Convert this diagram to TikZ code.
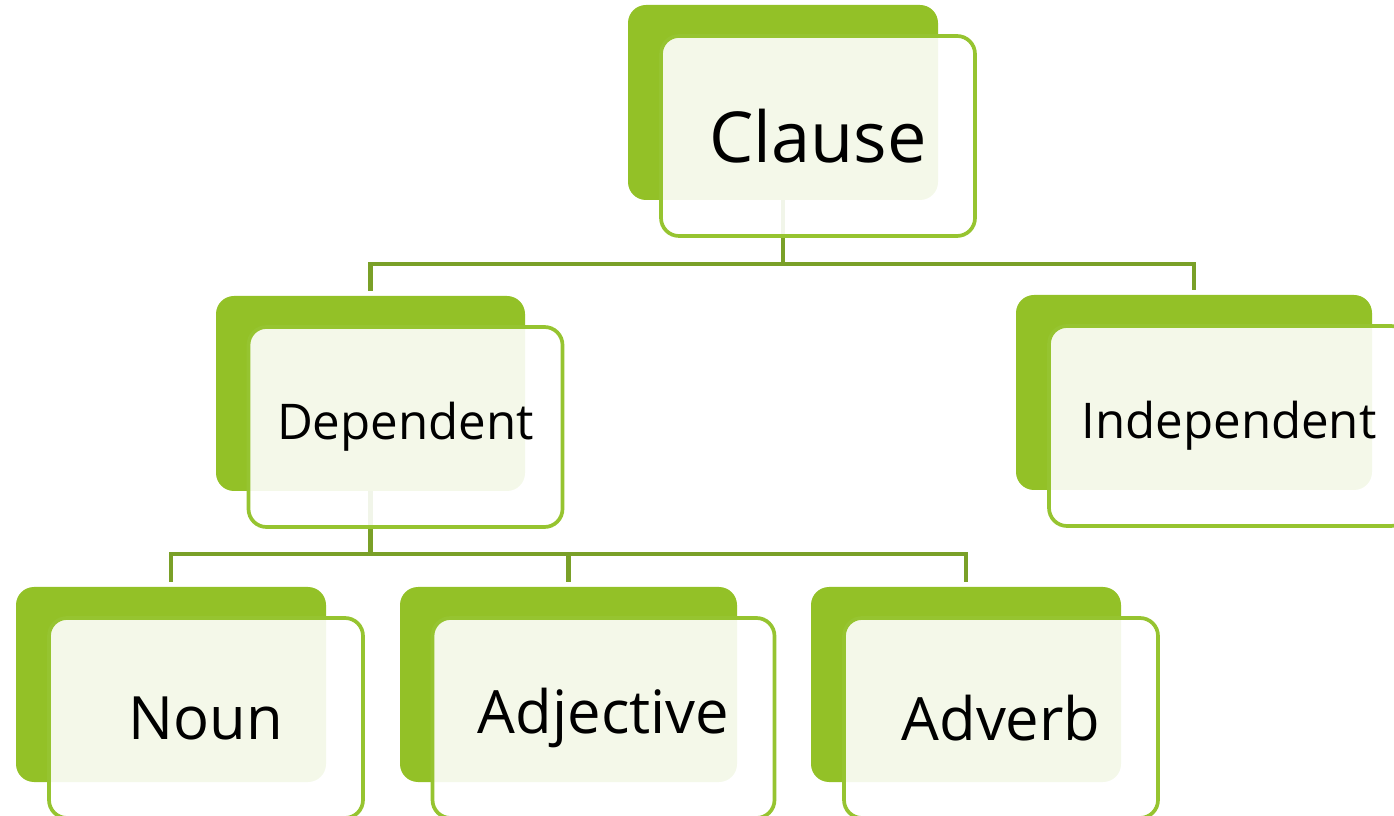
\documentclass[tikz,border=0pt]{standalone}
\usepackage{fontspec}
\setmainfont{Open Sans}
\usepackage{tikz}
\usetikzlibrary{positioning, backgrounds}
\definecolor{leaf}{RGB}{147,193,39}
\definecolor{leafline}{RGB}{150,196,48}
\definecolor{stem}{RGB}{122,160,40}
\tikzset{
back/.style={rounded corners=0.36cm, fill=leaf, minimum height=3.9cm, inner sep=0pt}, % the solid green card behind
front/.style={rounded corners=0.36cm, draw=leafline, line width=2.1pt, fill=white, fill opacity=0.9, text opacity=1, minimum height=4cm, inner sep=0pt, xshift=0.7cm, yshift=-0.67cm}, % the outlined card on top
link/.style={draw=stem, line width=2.3pt}, % the tree connectors
big/.style={font=\fontsize{40}{48}\selectfont},
mid/.style={font=\fontsize{34}{40}\selectfont},
small/.style={font=\fontsize{28}{34}\selectfont},
}
\begin{document}
\begin{tikzpicture}
            \useasboundingbox (0,0) rectangle (27.88,-16.32);
            \node[back, minimum width=6.2cm] (clauseback) at (15.66,-2.05) {};
            \node[front, minimum width=6.28cm, big] (clausefront) at (clauseback) {Clause};
            \node[back, minimum width=6.18cm] (depback) at (7.41,-7.87) {};
            \node[front, minimum width=6.28cm, small] (depfront) at (depback) {Dependent};
            \node[back, minimum width=7.12cm] (indback) at (23.88,-7.85) {};
            \node[front, minimum width=7.2cm, small] (indfront) at (indback) {Independent};
            \node[back, minimum width=6.2cm] (nounback) at (3.42,-13.69) {};
            \node[front, minimum width=6.28cm, mid] (nounfront) at (nounback) {Noun};
            \node[back, minimum width=6.74cm, right of=nounback, node distance=7.95cm] (adjback) {};
            \node[front, minimum width=6.84cm, mid] (adjfront) at (adjback) {Adjective};
            \node[back, minimum width=6.2cm, right of=adjback, node distance=7.95cm] (advback) {};
            \node[front, minimum width=6.28cm, mid] (advfront) at (advback) {Adverb};
            \begin{scope}[on background layer]
                \path (clauseback.center) ++(0,-3.23) coordinate (clausebus);
                \path (depback.center) ++(0,-3.21) coordinate (depbus);
                \draw[link] (clauseback.center) -- (clausebus);
                \draw[link, shorten >=0.1cm] (clausebus) -| (depback.north);
                \draw[link, shorten >=0.1cm] (clausebus) -| (indback.north);
                \draw[link] (depback.center) -- (depbus);
                \draw[link, shorten >=0.1cm] (depbus) -| (nounback.north);
                \draw[link, shorten >=0.1cm] (depbus) -| (adjback.north);
                \draw[link, shorten >=0.1cm] (depbus) -| (advback.north);
            \end{scope}
\end{tikzpicture}
\end{document}
